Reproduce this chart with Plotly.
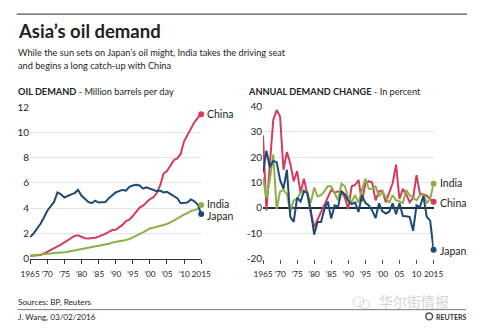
import plotly.graph_objects as go

years = list(range(1965, 2016))

china_demand = [0.22, 0.25, 0.27, 0.30, 0.40, 0.56, 0.70, 0.82, 0.98, 1.12,
                1.30, 1.45, 1.60, 1.80, 1.85, 1.72, 1.62, 1.60, 1.62, 1.67,
                1.75, 1.85, 1.98, 2.12, 2.27, 2.30, 2.48, 2.68, 2.98, 3.10,
                3.38, 3.70, 4.05, 4.20, 4.45, 4.72, 4.85, 5.20, 5.80, 6.75,
                6.95, 7.40, 7.80, 7.95, 8.30, 9.30, 9.80, 10.30, 10.80, 11.15,
                11.45]
japan_demand = [1.72, 2.00, 2.38, 2.75, 3.25, 3.80, 4.15, 4.50, 5.25, 5.10,
                4.85, 5.00, 5.10, 5.20, 5.45, 5.00, 4.75, 4.50, 4.40, 4.60,
                4.45, 4.50, 4.50, 4.80, 5.05, 5.25, 5.35, 5.45, 5.40, 5.70,
                5.80, 5.85, 5.80, 5.55, 5.65, 5.55, 5.45, 5.35, 5.40, 5.25,
                5.30, 5.15, 5.00, 4.80, 4.40, 4.45, 4.45, 4.70, 4.55, 4.30,
                3.55]
india_demand = [0.25, 0.27, 0.30, 0.33, 0.36, 0.40, 0.42, 0.45, 0.46, 0.47,
                0.52, 0.55, 0.60, 0.65, 0.70, 0.75, 0.80, 0.85, 0.90, 0.95,
                1.00, 1.05, 1.10, 1.18, 1.28, 1.35, 1.38, 1.42, 1.46, 1.55,
                1.70, 1.82, 1.95, 2.08, 2.25, 2.40, 2.45, 2.52, 2.60, 2.68,
                2.75, 2.88, 3.05, 3.20, 3.35, 3.50, 3.62, 3.78, 3.85, 3.95,
                4.25]

china_change = [28.5, -1, 17, 34.5, 38.5, 36, 15, 22, 17.5, 10.5,
                14.5, 6, 11.5, 5.5, -2, -7.5, -4.5, -1.5, 1.5, 4.5,
                7, 6, 6.5, 6.5, 4, -0.5, 8.5, 9, 11, 2.5,
                9.5, 10.5, 10, 3, 6.5, 6.8, 2.2, 6, 9.7, 17,
                3.5, 7.5, 5.3, 2.2, 4, 12.9, 5.6, 5.3, 4.8, 3.5,
                2.4]
japan_change = [14, 22.5, 16, 18.5, 18, 11, 7.5, 15, -3.5, -5.5,
                4, 2.5, 6.5, 6, -1, -10.5, -5.5, -5.5, -0.5, 2.5,
                -4.2, 1, 0.5, 6.6, 5.3, 2.8, 1.5, 2.2, -1.6, 5,
                2, 1, -1, -4, 1.8, -1.3, -2.2, -1.5, 1.8, -2.5,
                1.8, -3.2, -3.3, -3.6, -9, 1, 0.3, 4.7, -3.5, -5,
                -16.5]
india_change = [12, 4, 11, 21, -0.5, 6.5, 7, 5.5, -1.5, 3,
                3.5, 6, 7, 5.5, 2, 8, 4.5, 5, 6.5, 8.5,
                8.5, 5.5, 3, 9.5, 8.5, 4, 2.5, 5, 2, 7,
                11.5, 7.5, 7.5, 8.5, 4.5, 6.5, 4, 2, 5, 3,
                2.5, 2, 7, 5, 4, 3, 5, 5.5, 2, 3.5,
                9.5]

x_tickvals = [1965, 1970, 1975, 1980, 1985, 1990, 1995, 2000, 2005, 2010, 2015]
left_ticktext = ["1965", "’70", "’75", "’80", "’85", "’90", "’95", "’00", "’05", "’10", "2015"]
right_ticktext = ["1965", "’70", "’75", "’80", "’85", "’90", "’95", "’00", "05", "10", "2015"]
left_yvals = [0, 2, 4, 6, 8, 10, 12]
left_ytext = ["0", "2", "4", "6", "8", "10", "12"]
right_yvals = [-20, -10, 0, 10, 20, 30, 40]
right_ytext = ["-20", "-10", "0", "10", "20", "30", "40"]

C_CHINA = "#d23c60"
C_JAPAN = "#1f4a73"
C_INDIA = "#8db045"
TXT = "#231f20"
FONT = "Lato"

W, H = 480, 332
def px(x):
    return x / W
def py(y):
    return 1 - y / H

fig = go.Figure()

series = [("China", C_CHINA, china_demand, china_change),
          ("India", C_INDIA, india_demand, india_change),
          ("Japan", C_JAPAN, japan_demand, japan_change)]

for name, col, dem, chg in series:
    fig.add_trace(go.Scatter(x=years, y=dem, mode="lines", line=dict(color=col, width=2),
                             xaxis="x", yaxis="y", showlegend=False, hoverinfo="skip"))
    fig.add_trace(go.Scatter(x=years, y=chg, mode="lines", line=dict(color=col, width=2),
                             xaxis="x2", yaxis="y2", showlegend=False, hoverinfo="skip"))
for name, col, dem, chg in series:
    fig.add_trace(go.Scatter(x=[years[-1]], y=[dem[-1]], mode="markers", marker=dict(color=col, size=6),
                             xaxis="x", yaxis="y", showlegend=False, cliponaxis=False, hoverinfo="skip"))
    fig.add_trace(go.Scatter(x=[years[-1]], y=[chg[-1]], mode="markers", marker=dict(color=col, size=6),
                             xaxis="x2", yaxis="y2", showlegend=False, cliponaxis=False, hoverinfo="skip"))

ydom = [py(262), py(104.3)]
ydom2 = [py(262), py(103.3)]

fig.update_layout(
    width=W, height=H, autosize=False,
    margin=dict(l=0, r=0, t=0, b=0),
    paper_bgcolor="white", plot_bgcolor="white",
    font=dict(family=FONT, color=TXT),
    xaxis=dict(domain=[px(21), px(199.5)], range=[1965, 2015], anchor="y",
               tickvals=x_tickvals, ticktext=left_ticktext, ticks="outside", ticklen=4,
               tickangle=0, tickcolor="#333", showline=True, linecolor="#333", linewidth=1,
               ticklabelstandoff=3,
               showgrid=False, zeroline=False, tickfont=dict(size=8.3, color=TXT)),
    yaxis=dict(domain=ydom, range=[0, 12], anchor="x",
               tickvals=left_yvals, ticktext=left_ytext, ticks="",
               showgrid=True, gridcolor="#e4e4e4", gridwidth=1, zeroline=False,
               tickfont=dict(size=10, color=TXT)),
    xaxis2=dict(domain=[px(264), px(442)], range=[1965, 2015], anchor="y2",
                tickvals=x_tickvals, ticktext=right_ticktext, ticks="outside", ticklen=4,
                tickangle=0, tickcolor="#555", showline=False, showgrid=False, zeroline=False,
                ticklabelstandoff=3,
                tickfont=dict(size=8.3, color=TXT)),
    yaxis2=dict(domain=ydom2, range=[-20, 40], anchor="x2",
                tickvals=right_yvals, ticktext=right_ytext, ticks="",
                showgrid=True, gridcolor="#e4e4e4", gridwidth=1,
                zeroline=True, zerolinecolor="#1e2d3c", zerolinewidth=1.5,
                tickfont=dict(size=10, color=TXT)),
)

ann = []
def txt(x, y, t, size, color=TXT, family=FONT, xanchor="left"):
    ann.append(dict(x=px(x), y=py(y), xref="paper", yref="paper", text=t, showarrow=False,
                    xanchor=xanchor, yanchor="middle", font=dict(size=size, color=color, family=family)))

txt(6, 25, "<b>Asia’s oil demand</b>", 18.5)
txt(6, 47.5, "While the sun sets on Japan’s oil might, India takes the driving seat", 9.2)
txt(6, 61, "and begins a long catch-up with China", 9.2)
txt(6, 88, "<b>OIL DEMAND</b> - Million barrels per day", 9.2)
txt(246, 88, "<b>ANNUAL DEMAND CHANGE</b> - In percent", 9.2)
txt(6, 307.5, "Sources: BP, Reuters", 8.2)
txt(6, 322.5, "J. Wang, 03/02/2016", 8.2)
txt(442, 322.5, "<b>REUTERS</b>", 7, color="#333")
txt(383, 306, "华尔街情报", 14, color="#d4d4d4", family="Noto Sans CJK SC")

def lab(xref, yref, x, y, t, yshift):
    ann.append(dict(x=x, y=y, xref=xref, yref=yref, text=t, showarrow=False, xanchor="left",
                    yanchor="middle", xshift=4, yshift=yshift, font=dict(size=10.5, color=TXT, family=FONT)))

lab("x", "y", years[-1], china_demand[-1], "China", 0)
lab("x", "y", years[-1], india_demand[-1], "India", 1)
lab("x", "y", years[-1], japan_demand[-1], "Japan", -2.5)
lab("x2", "y2", years[-1], india_change[-1], "India", 1)
lab("x2", "y2", years[-1], china_change[-1], "China", -1.5)
lab("x2", "y2", years[-1], japan_change[-1], "Japan", -1.5)

fig.update_layout(annotations=ann)

shapes = [
    dict(type="line", xref="paper", yref="paper", x0=px(7), x1=px(477), y0=py(7.5), y1=py(7.5),
         line=dict(color="#555", width=1.2)),
    dict(type="line", xref="paper", yref="paper", x0=px(8), x1=px(476), y0=py(315), y1=py(315),
         line=dict(color="#777", width=1)),
    dict(type="circle", xref="paper", yref="paper", x0=px(434), x1=px(441), y0=py(325.5), y1=py(318.5),
         line=dict(color="#555", width=1.5), fillcolor="white"),
    dict(type="circle", xref="paper", yref="paper", x0=px(358), x1=px(369), y0=py(312), y1=py(302),
         line=dict(color="#d4d4d4", width=1)),
    dict(type="circle", xref="paper", yref="paper", x0=px(365), x1=px(375), y0=py(314), y1=py(305),
         line=dict(color="#d4d4d4", width=1)),
]
fig.update_layout(shapes=shapes)

fig.write_html("out.html")
